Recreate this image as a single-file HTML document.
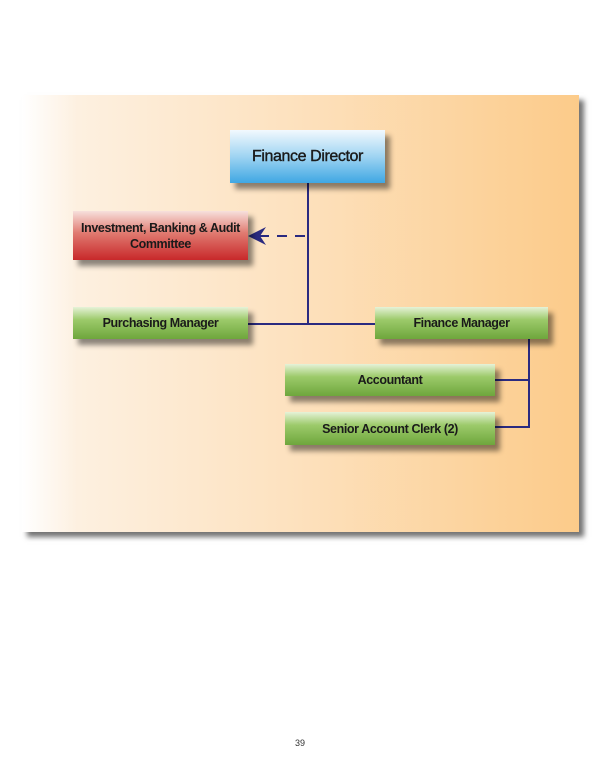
<!DOCTYPE html>
<html><head><style>
body{margin:0;width:600px;height:776px;background:#fff;position:relative;font-family:"Liberation Sans",sans-serif;overflow:hidden}
.panel{position:absolute;left:22px;top:95px;width:557px;height:437px;background:linear-gradient(to right,#fff 0%,#fdf0e0 10%,#fde3c2 45%,#fccb8a 100%);box-shadow:5px 5px 5px rgba(0,0,0,.55)}
.b{position:absolute;display:flex;align-items:center;justify-content:center;text-align:center;font-weight:bold;color:#1a1a1a;box-shadow:5px 6px 5px rgba(0,0,0,.45);letter-spacing:-0.4px}
.g{background:linear-gradient(#e6f2d8 0%,#9cca6a 40%,#6ea63c 100%);font-size:12.5px}
svg{position:absolute;left:0;top:0}
</style></head><body>
<div class="panel"></div>
<svg width="600" height="776">
<g stroke="#2a2a80" stroke-width="2" fill="none">
<line x1="308" y1="183" x2="308" y2="325"/>
<line x1="248" y1="324" x2="376" y2="324"/>
<line x1="529" y1="339" x2="529" y2="428"/>
<line x1="495" y1="380" x2="529" y2="380"/>
<line x1="495" y1="427" x2="529" y2="427"/>
<line x1="305" y1="236" x2="258" y2="236" stroke-dasharray="10,8"/>
</g>
<polygon points="248,236 266,227 260,236 266,245" fill="#2a2a80"/>
</svg>
<div class="b" style="left:230px;top:130px;width:155px;height:53px;background:linear-gradient(#f2f9fe 0%,#9fd4f2 50%,#3fa7e3 100%);font-size:16px;font-weight:normal;-webkit-text-stroke:0.4px #1a1a1a">Finance Director</div>
<div class="b" style="left:73px;top:211px;width:175px;height:49px;background:linear-gradient(#f7e0dc 0%,#e07a70 45%,#c8282a 100%);font-size:12.5px;line-height:16px">Investment, Banking &amp; Audit<br>Committee</div>
<div class="b g" style="left:73px;top:307px;width:175px;height:32px">Purchasing Manager</div>
<div class="b g" style="left:375px;top:307px;width:173px;height:32px">Finance Manager</div>
<div class="b g" style="left:285px;top:364px;width:210px;height:32px">Accountant</div>
<div class="b g" style="left:285px;top:412px;width:210px;height:33px">Senior Account Clerk (2)</div>
<div style="position:absolute;left:290px;top:738px;width:20px;text-align:center;font-size:9px;color:#333">39</div>
</body></html>
